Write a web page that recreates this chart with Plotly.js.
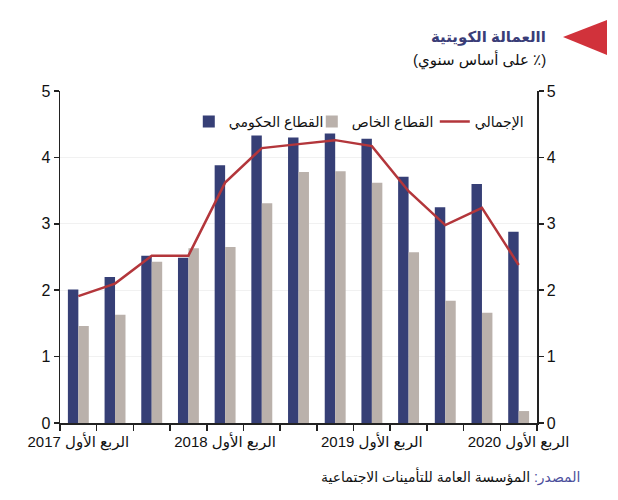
<!DOCTYPE html>
<html>
<head>
<meta charset="utf-8">
<script src="https://cdn.plot.ly/plotly-3.0.1.min.js"></script>
<style>html,body{margin:0;padding:0;background:#fff;}#chart{width:618px;height:500px;}</style>
</head>
<body>
<div id="chart"></div>
<script>
var RLE = '\u202B', PDF = '\u202C';
var quarters = ['2017Q1','2017Q2','2017Q3','2017Q4','2018Q1','2018Q2','2018Q3','2018Q4','2019Q1','2019Q2','2019Q3','2019Q4','2020Q1'];
var tickLabels = ['الربع الأول 2017','','','','الربع الأول 2018','','','','الربع الأول 2019','','','','الربع الأول 2020'];
var governmentSector = [2.01, 2.20, 2.52, 2.49, 3.88, 4.33, 4.30, 4.36, 4.28, 3.71, 3.25, 3.60, 2.88];
var privateSector = [1.46, 1.63, 2.43, 2.63, 2.65, 3.31, 3.78, 3.79, 3.62, 2.57, 1.84, 1.66, 0.18];
var total = [1.91, 2.10, 2.52, 2.52, 3.62, 4.14, 4.20, 4.26, 4.17, 3.49, 2.98, 3.24, 2.38];
var seriesNames = ['القطاع الحكومي', 'القطاع الخاص', 'الإجمالي'];
var yTicks = [0, 1, 2, 3, 4, 5];

var font = 'Liberation Sans, Arial, DejaVu Sans, sans-serif';

var traces = [
  {type: 'bar', x: quarters, y: governmentSector, name: seriesNames[0], marker: {color: '#363f76'}, hoverinfo: 'skip'},
  {type: 'bar', x: quarters, y: privateSector, name: seriesNames[1], marker: {color: '#bab1ab'}, hoverinfo: 'skip'},
  {type: 'scatter', mode: 'lines', x: quarters, y: total, name: seriesNames[2], yaxis: 'y2', line: {color: '#b3363b', width: 2.5}, hoverinfo: 'skip'}
];

var layout = {
  width: 618, height: 500,
  margin: {l: 60, r: 81, t: 91, b: 77},
  paper_bgcolor: '#ffffff', plot_bgcolor: '#ffffff',
  font: {family: font, size: 15, color: '#111111'},
  barmode: 'group', bargap: 0.43, bargroupgap: 0,
  showlegend: true,
  legend: {orientation: 'h', x: 0.27, xanchor: 'left', y: 0.907, yanchor: 'middle',
           font: {family: font, size: 14, color: '#111'}, bgcolor: 'rgba(0,0,0,0)',
           itemwidth: 30, tracegroupgap: 0, entrywidth: 78, entrywidthmode: 'pixels'},
  xaxis: {
    type: 'category', tickmode: 'array', tickvals: quarters,
    ticktext: tickLabels.map(function(t){ return t ? RLE + t + PDF : ''; }),
    tickson: 'boundaries', ticks: 'outside', ticklen: 6, tickcolor: '#222', tickwidth: 1.5,
    showline: true, linecolor: '#222', linewidth: 1.5, showgrid: false, zeroline: false,
    tickfont: {family: font, size: 15, color: '#111'}, tickangle: 0, ticklabelstandoff: 4
  },
  yaxis: {
    range: [0, 5], tickmode: 'array', tickvals: yTicks, ticks: 'outside', ticklen: 5,
    tickcolor: '#222', tickwidth: 1.5, showline: true, linecolor: '#222', linewidth: 1.5,
    showgrid: true, gridcolor: '#f1f1f1', gridwidth: 1, zeroline: false,
    tickfont: {family: font, size: 16, color: '#111'}
  },
  yaxis2: {
    range: [0, 5], tickmode: 'array', tickvals: yTicks, overlaying: 'y', side: 'right', anchor: 'x',
    ticks: 'outside', ticklen: 5, tickcolor: '#222', tickwidth: 1.5, showline: true,
    linecolor: '#222', linewidth: 1.5, showgrid: false, zeroline: false,
    tickfont: {family: font, size: 16, color: '#111'}
  },
  shapes: [
    {type: 'path', xref: 'paper', yref: 'paper',
     path: 'M 1.0545,1.1627 L 1.1468,1.2139 L 1.1468,1.1084 Z',
     fillcolor: '#d1323b', line: {width: 0}}
  ],
  annotations: [
    {xref: 'paper', yref: 'paper', x: 1.023, y: 1.1627, xanchor: 'right', yanchor: 'middle', showarrow: false,
     text: '<b>' + RLE + 'االعمالة الكويتية' + PDF + '</b>', font: {family: font, size: 15, color: '#3a3d78'}},
    {xref: 'paper', yref: 'paper', x: 1.023, y: 1.093, xanchor: 'right', yanchor: 'middle', showarrow: false,
     text: RLE + '(٪ على أساس سنوي)' + PDF, font: {family: font, size: 15, color: '#111'}},
    {xref: 'paper', yref: 'paper', x: 1.094, y: -0.16, xanchor: 'right', yanchor: 'middle', showarrow: false,
     text: RLE + '<span style="color:#4b4f9c">المصدر:</span> المؤسسة العامة للتأمينات الاجتماعية' + PDF,
     font: {family: font, size: 14, color: '#111'}}
  ]
};

Plotly.newPlot('chart', traces, layout, {displayModeBar: false, staticPlot: true});
</script>
</body>
</html>
